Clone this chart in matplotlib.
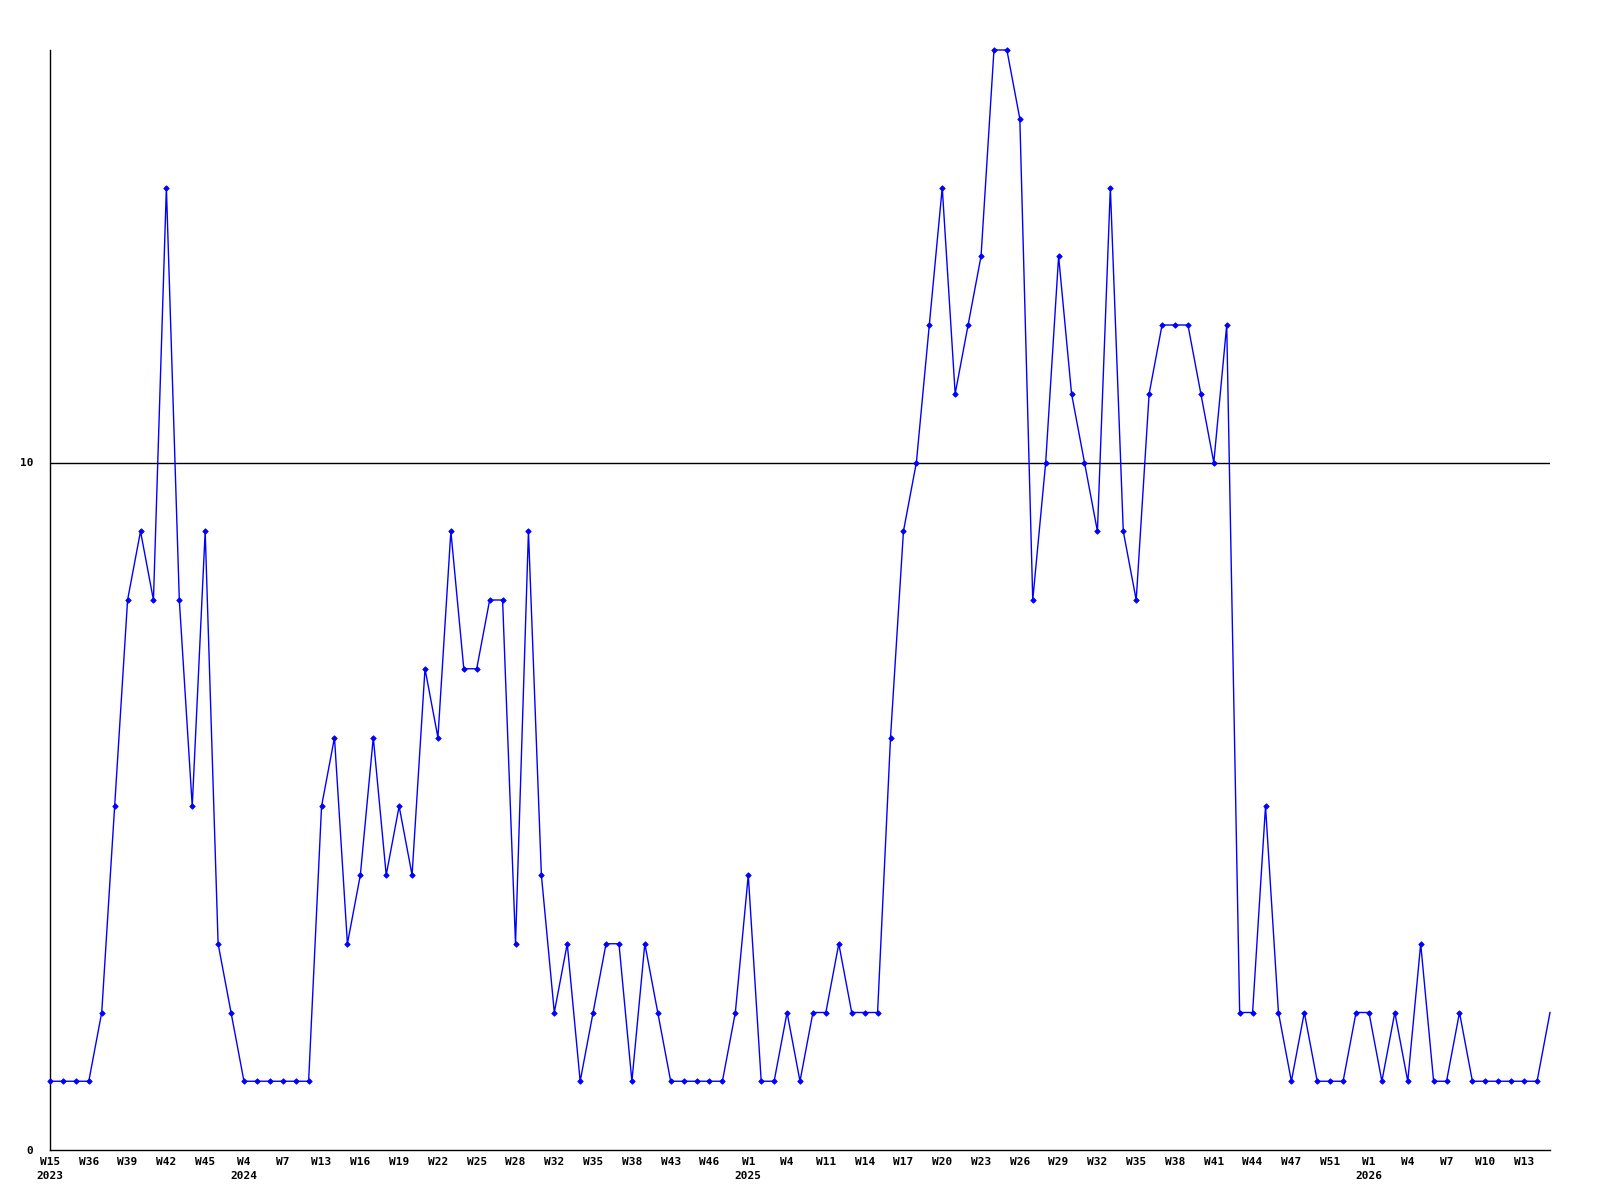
import matplotlib
matplotlib.use("Agg")
import matplotlib.pyplot as plt


# weekly counts
counts = [
    1, 1, 1, 1, 2, 5, 8, 9, 8, 14, 8, 5, 9, 3, 2,
    1, 1, 1, 1, 1, 1, 5, 6, 3, 4, 6, 4, 5, 4, 7,
    6, 9, 7, 7, 8, 8, 3, 9, 4, 2, 3, 1, 2, 3, 3,
    1, 3, 2, 1, 1, 1, 1, 1, 2, 4, 1, 1, 2, 1, 2,
    2, 3, 2, 2, 2, 6, 9, 10, 12, 14, 11, 12, 13, 16, 16,
    15, 8, 10, 13, 11, 10, 9, 14, 9, 8, 11, 12, 12, 12, 11,
    10, 12, 2, 2, 5, 2, 1, 2, 1, 1, 1, 2, 2, 1, 2,
    1, 3, 1, 1, 2, 1, 1, 1, 1, 1, 1, 2,
]

week_labels = [
    "W15\n2023", "W36", "W39", "W42", "W45", "W4\n2024", "W7", "W13", "W16",
    "W19", "W22", "W25", "W28", "W32", "W35", "W38", "W43", "W46",
    "W1\n2025", "W4", "W11", "W14", "W17", "W20", "W23", "W26", "W29",
    "W32", "W35", "W38", "W41", "W44", "W47", "W51", "W1\n2026", "W4",
    "W7", "W10", "W13",
]
label_step = 3

y_ticks = [0, 10]
ref_level = 10


fig = plt.figure(figsize=(16, 12), dpi=100)
ax = fig.add_axes([50 / 1600, 50 / 1200, 1500 / 1600, 1100 / 1200])

x = list(range(len(counts)))
ax.plot(x, counts, color="#0000ff", lw=1.0, marker="D", markersize=2.8,
        markeredgewidth=0.6, markevery=list(range(len(counts) - 1)),
        clip_on=False, zorder=3)
ax.axhline(ref_level, color="black", lw=1.0, zorder=2)

ax.set_xlim(0, len(counts) - 1)
ax.set_ylim(0, 16)

for side in ("top", "right"):
    ax.spines[side].set_visible(False)
for side in ("left", "bottom"):
    ax.spines[side].set_linewidth(1.0)
    ax.spines[side].set_color("black")

ax.set_xticks(list(range(0, label_step * len(week_labels), label_step)))
ax.set_xticklabels(week_labels, fontfamily="DejaVu Sans Mono",
                   fontweight="bold", fontsize=8, linespacing=1.45,
                   ha="center", va="top")
ax.set_yticks(y_ticks)
ax.set_yticklabels([str(v) for v in y_ticks], fontfamily="DejaVu Sans Mono",
                   fontweight="bold", fontsize=8)
ax.tick_params(axis="x", length=0, pad=5)
ax.tick_params(axis="y", length=0, pad=12)

fig.savefig("out.png", dpi=100)
